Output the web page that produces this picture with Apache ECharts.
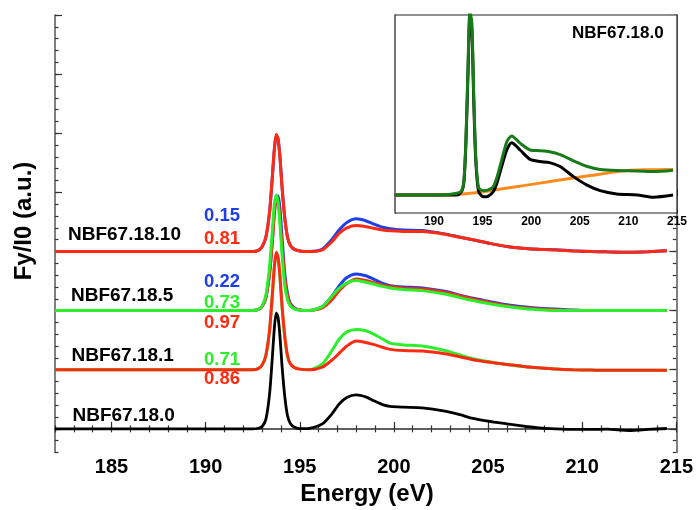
<!DOCTYPE html>
<html><head><meta charset="utf-8">
<script src="https://cdn.jsdelivr.net/npm/echarts@6/dist/echarts.min.js"></script>
<style>html,body{margin:0;padding:0;background:#fff}#c{width:696px;height:510px}</style>
</head><body><div id="c"></div>
<script>
// ---------- main panel data ----------
const energy = [182, 188, 191, 192.5, 192.8, 193.0, 193.2, 193.4, 193.55, 193.65, 193.75, 193.85, 193.95, 194.05, 194.2, 194.35, 194.5, 194.7, 195.0, 195.5, 196.2, 196.7, 197.1, 197.5, 198.0, 198.5, 198.9, 199.4, 199.8, 200.5, 201.5, 202.7, 203.5, 204.2, 205.0, 206.0, 207.0, 207.7, 208.6, 209.5, 210.5, 211.3, 212.5, 213.5, 214.5];
// NBF67.18.0 (black)
const s0_black = [0, 0, 0, 0, 0.05, 0.2, 0.8, 3.0, 6.2, 8.5, 9.8, 9.4, 7.8, 5.5, 2.8, 1.1, 0.45, 0.15, 0.02, 0.05, 0.42, 1.25, 2.11, 2.65, 2.87, 2.7, 2.4, 2.05, 1.9, 1.83, 1.77, 1.5, 1.2, 0.88, 0.65, 0.42, 0.2, 0.08, 0.0, -0.05, -0.05, -0.03, -0.14, -0.05, 0.03];
// NBF67.18.1
const s1_green = [5, 5, 5, 5, 5.1, 5.4, 6.2, 8.4, 11.4, 13.6, 14.8, 14.4, 12.8, 10.5, 7.8, 6.1, 5.5, 5.2, 5.05, 5.0, 5.5, 6.6, 7.6, 8.2, 8.41, 8.3, 8.04, 7.6, 7.25, 7.1, 7.0, 6.63, 6.25, 5.93, 5.7, 5.45, 5.25, 5.17, 5.06, 5.0, 4.97, 4.95, 4.95, 4.95, 4.95];
const s1_red = [5, 5, 5, 5, 5.1, 5.4, 6.2, 8.4, 11.5, 13.7, 14.94, 14.5, 12.9, 10.6, 7.9, 6.2, 5.5, 5.2, 5.05, 5.0, 5.23, 5.8, 6.41, 7.0, 7.42, 7.3, 7.14, 6.9, 6.72, 6.62, 6.58, 6.35, 6.1, 5.85, 5.65, 5.45, 5.25, 5.17, 5.06, 5.0, 4.97, 4.95, 4.95, 4.95, 4.95];
// NBF67.18.5
const s5_blue = [10, 10, 10, 10, 10.1, 10.35, 11.1, 13.2, 16.0, 18.3, 19.6, 19.7, 18.6, 16.4, 13.2, 11.4, 10.6, 10.25, 10.05, 10.0, 10.34, 11.2, 12.1, 12.8, 13.1, 12.95, 12.68, 12.3, 12.11, 12.0, 11.92, 11.63, 11.3, 11.04, 10.8, 10.5, 10.3, 10.2, 10.14, 10.05, 10.0, 10.0, 10.0, 10.0, 10.0];
const s5_red = [10, 10, 10, 10, 10.1, 10.35, 11.1, 13.2, 16.0, 18.1, 19.4, 19.2, 17.8, 15.6, 12.8, 11.2, 10.5, 10.2, 10.05, 10.0, 10.23, 10.9, 11.7, 12.3, 12.68, 12.55, 12.39, 12.15, 12.03, 11.9, 11.83, 11.55, 11.25, 10.99, 10.72, 10.42, 10.22, 10.14, 10.08, 10.02, 10.0, 10.0, 10.0, 10.0, 10.0];
const s5_green = [10, 10, 10, 10, 10.1, 10.4, 11.3, 13.8, 16.9, 19.0, 19.78, 19.1, 17.3, 14.9, 12.2, 10.9, 10.4, 10.15, 10.03, 10.0, 10.34, 11.2, 11.9, 12.35, 12.54, 12.4, 12.25, 12.05, 11.92, 11.78, 11.69, 11.41, 11.1, 10.85, 10.6, 10.34, 10.15, 10.08, 10.0, 10.0, 10.0, 10.0, 10.0, 10.0, 10.0];
// NBF67.18.10
const s10_blue = [15, 15, 15, 15, 15.1, 15.4, 16.2, 18.4, 21.4, 23.6, 24.8, 24.5, 23.0, 20.7, 17.9, 16.2, 15.5, 15.2, 15.05, 15.0, 15.2, 16.0, 16.83, 17.45, 17.76, 17.6, 17.34, 17.05, 16.92, 16.82, 16.77, 16.49, 16.22, 15.99, 15.72, 15.42, 15.25, 15.18, 15.14, 15.06, 15.0, 14.97, 14.94, 14.98, 15.06];
const s10_red = [15, 15, 15, 15, 15.1, 15.4, 16.2, 18.4, 21.5, 23.7, 24.92, 24.5, 22.9, 20.6, 17.9, 16.2, 15.5, 15.2, 15.05, 15.0, 15.14, 15.8, 16.55, 17.0, 17.2, 17.1, 16.97, 16.82, 16.75, 16.7, 16.69, 16.46, 16.2, 15.99, 15.72, 15.42, 15.25, 15.18, 15.12, 15.05, 15.0, 14.97, 14.94, 14.98, 15.06];

// ---------- inset data ----------
const insetEnergy = [186, 191, 192.35, 192.86, 193.1, 193.3, 193.5, 193.7, 193.9, 194.1, 194.3, 194.6, 195.1, 195.6, 196.1, 196.5, 196.97, 197.5, 198.0, 198.86, 199.9, 200.9, 201.9, 202.98, 204.35, 205.7, 207.1, 208.8, 210.9, 212.6, 214.6];
const inset_black = [0, 0, 0, 0.1, 0.4, 1.5, 3.3, 4.9, 4.6, 2.6, 1.0, 0.1, -0.05, -0.03, 0.09, 0.35, 0.79, 1.25, 1.45, 1.25, 0.99, 0.93, 0.9, 0.79, 0.51, 0.28, 0.12, 0.03, 0, -0.06, 0];
const inset_green = [0, 0.01, 0.05, 0.12, 0.45, 1.6, 3.5, 5.1, 4.8, 2.8, 1.1, 0.2, 0.12, 0.14, 0.23, 0.5, 0.97, 1.48, 1.64, 1.44, 1.25, 1.23, 1.2, 1.12, 0.95, 0.8, 0.71, 0.68, 0.67, 0.65, 0.69];
const bgEnergy = [186, 191.5, 192.7, 195.8, 199.2, 202.6, 206.1, 209.5, 211.6, 214.6];
const inset_bg = [0, 0, 0.02, 0.12, 0.26, 0.4, 0.54, 0.67, 0.7, 0.71];

// ---------- ticks / labels ----------
const xMajorTicks = [185, 190, 195, 200, 205, 210, 215];
const yMajorTicks = [0, 5, 10, 15, 20, 25, 30, 35];
const insetXTicks = [190, 195, 200, 205, 210, 215];
const insetYTicks = [0, 1, 2, 3, 4, 5];
const sampleNames = ['NBF67.18.10', 'NBF67.18.5', 'NBF67.18.1', 'NBF67.18.0'];
const fracLabels = ['0.15', '0.81', '0.22', '0.73', '0.97', '0.71', '0.86'];

const BLUE = '#1f3fe6', RED = '#ff2a12', GREEN = '#2cef2c', BLACK = '#000000';
const DKGREEN = '#187a18', ORANGE = '#ff8a1c';
const FONT = '"Liberation Sans", Arial, sans-serif';

function pairs(xs, ys) { return xs.map((x, i) => [x, ys[i]]); }
function line(name, xs, ys, color, xi, yi, w) {
  return { name, type: 'line', xAxisIndex: xi, yAxisIndex: yi, data: pairs(xs, ys),
    showSymbol: false, symbol: 'none', smooth: 0.25, lineStyle: { color, width: w || 3 },
    itemStyle: { color }, silent: true, animation: false, z: 5 };
}

const axLine = { show: true, lineStyle: { color: '#555', width: 1.5 } };
const main = { left: 55, right: 17, top: 15, bottom: 57.5 };
const inset = { left: 395, right: 19, top: 15, height: 198 };

const option = {
  animation: false,
  backgroundColor: '#fff',
  grid: [
    Object.assign({ containLabel: false }, main),
    Object.assign({ containLabel: false, show: true, backgroundColor: '#fff', borderColor: '#222', borderWidth: 1.2, z: 10 }, inset)
  ],
  xAxis: [
    { type: 'value', gridIndex: 0, position: 'bottom', min: 182, max: 215, splitLine: { show: false },
      axisLine: axLine, axisTick: { show: true, inside: true, length: 7, customValues: xMajorTicks, lineStyle: { color: '#333', width: 1.2 } },
      axisLabel: { show: true, customValues: xMajorTicks, margin: 5, fontSize: 20, fontWeight: 'bold', fontFamily: FONT, color: '#000' } },
    { type: 'value', gridIndex: 0, position: 'bottom', min: 182, max: 215, interval: 1, splitLine: { show: false },
      axisLine: { show: false }, axisTick: { show: true, inside: true, length: 3.5, lineStyle: { color: '#333', width: 1.2 } }, axisLabel: { show: false } },
    { type: 'value', gridIndex: 0, position: 'top', min: 182, max: 215, interval: 1, splitLine: { show: false },
      axisLine: axLine, axisTick: { show: true, inside: true, length: 3.5, lineStyle: { color: '#333', width: 1.2 } }, axisLabel: { show: false } },
    { type: 'value', gridIndex: 1, position: 'bottom', min: 186, max: 215, splitLine: { show: false },
      axisLine: { show: true, lineStyle: { color: '#222', width: 1.2 } },
      axisTick: { show: true, inside: true, length: 5, customValues: insetXTicks, lineStyle: { color: '#222' } },
      axisLabel: { show: true, customValues: insetXTicks, margin: 3, fontSize: 12, fontWeight: 'bold', fontFamily: FONT, color: '#000' } },
    { type: 'value', gridIndex: 1, position: 'bottom', min: 186, max: 215, interval: 1, splitLine: { show: false },
      axisLine: { show: false }, axisTick: { show: true, inside: true, length: 3, lineStyle: { color: '#222' } }, axisLabel: { show: false } }
  ],
  yAxis: [
    { type: 'value', gridIndex: 0, position: 'left', min: -2, max: 35, interval: 1, splitLine: { show: false },
      axisLine: axLine, axisTick: { show: true, inside: true, length: 3.5, lineStyle: { color: '#333', width: 1.2 } }, axisLabel: { show: false } },
    { type: 'value', gridIndex: 0, position: 'left', min: -2, max: 35, splitLine: { show: false },
      axisLine: { show: false }, axisTick: { show: true, inside: true, length: 7, customValues: yMajorTicks, lineStyle: { color: '#333', width: 1.2 } }, axisLabel: { show: false } },
    { type: 'value', gridIndex: 0, position: 'right', min: -2, max: 35, interval: 1, splitLine: { show: false },
      axisLine: axLine, axisTick: { show: true, inside: true, length: 3.5, lineStyle: { color: '#333', width: 1.2 } }, axisLabel: { show: false } },
    { type: 'value', gridIndex: 0, position: 'right', min: -2, max: 35, splitLine: { show: false },
      axisLine: { show: false }, axisTick: { show: true, inside: true, length: 7, customValues: yMajorTicks, lineStyle: { color: '#333', width: 1.2 } }, axisLabel: { show: false } },
    { type: 'value', gridIndex: 1, position: 'left', min: -0.5, max: 5, splitLine: { show: false },
      axisLine: { show: true, lineStyle: { color: '#222', width: 1.2 } },
      axisTick: { show: true, inside: true, length: 4, customValues: insetYTicks, lineStyle: { color: '#222' } }, axisLabel: { show: false } }
  ],
  series: [
    line('18.0', energy, s0_black, BLACK, 0, 0, 2.8),
    line('18.1 g', energy, s1_green, GREEN, 0, 0),
    line('18.1 r', energy, s1_red, RED, 0, 0),
    line('18.5 b', energy, s5_blue, BLUE, 0, 0),
    line('18.5 r', energy, s5_red, RED, 0, 0),
    line('18.5 g', energy, s5_green, GREEN, 0, 0),
    line('18.10 b', energy, s10_blue, BLUE, 0, 0),
    line('18.10 r', energy, s10_red, RED, 0, 0),
    Object.assign(line('bg', bgEnergy, inset_bg, ORANGE, 3, 4, 3), { z: 12 }),
    Object.assign(line('inset black', insetEnergy, inset_black, BLACK, 3, 4, 3), { z: 12 }),
    Object.assign(line('inset green', insetEnergy, inset_green, DKGREEN, 3, 4, 3), { z: 12 })
  ],
  graphic: []
};

const nameY = [235, 296, 356, 416];
const nameX = [68, 71, 71.5, 72.5];
sampleNames.forEach((t, i) => option.graphic.push({ type: 'text', z: 20, style: { text: t, x: nameX[i], y: nameY[i], textVerticalAlign: 'middle', fontSize: 19, fontWeight: 'bold', fontFamily: FONT, fill: '#000' } }));
const fracY = [216, 239, 282, 303, 323, 360, 379];
const fracC = [BLUE, RED, BLUE, GREEN, RED, GREEN, RED];
fracLabels.forEach((t, i) => option.graphic.push({ type: 'text', z: 20, style: { text: t, x: 204, y: fracY[i], textVerticalAlign: 'middle', fontSize: 18.5, fontWeight: 'bold', fontFamily: FONT, fill: fracC[i] } }));
option.graphic.push({ type: 'text', z: 20, style: { text: 'NBF67.18.0', x: 572, y: 33, textVerticalAlign: 'middle', fontSize: 17, fontWeight: 'bold', fontFamily: FONT, fill: '#000' } });
option.graphic.push({ type: 'text', z: 20, style: { text: 'Energy (eV)', x: 367, y: 494, textAlign: 'center', textVerticalAlign: 'middle', fontSize: 24, fontWeight: 'bold', fontFamily: FONT, fill: '#000' } });
option.graphic.push({ type: 'text', z: 20, x: 24, y: 221, rotation: Math.PI / 2, style: { text: 'Fy/I0 (a.u.)', x: 0, y: 0, textAlign: 'center', textVerticalAlign: 'middle', fontSize: 24, fontWeight: 'bold', fontFamily: FONT, fill: '#000' } });

const chart = echarts.init(document.getElementById('c'), null, { renderer: 'canvas' });
chart.setOption(option);
</script>
</body></html>
